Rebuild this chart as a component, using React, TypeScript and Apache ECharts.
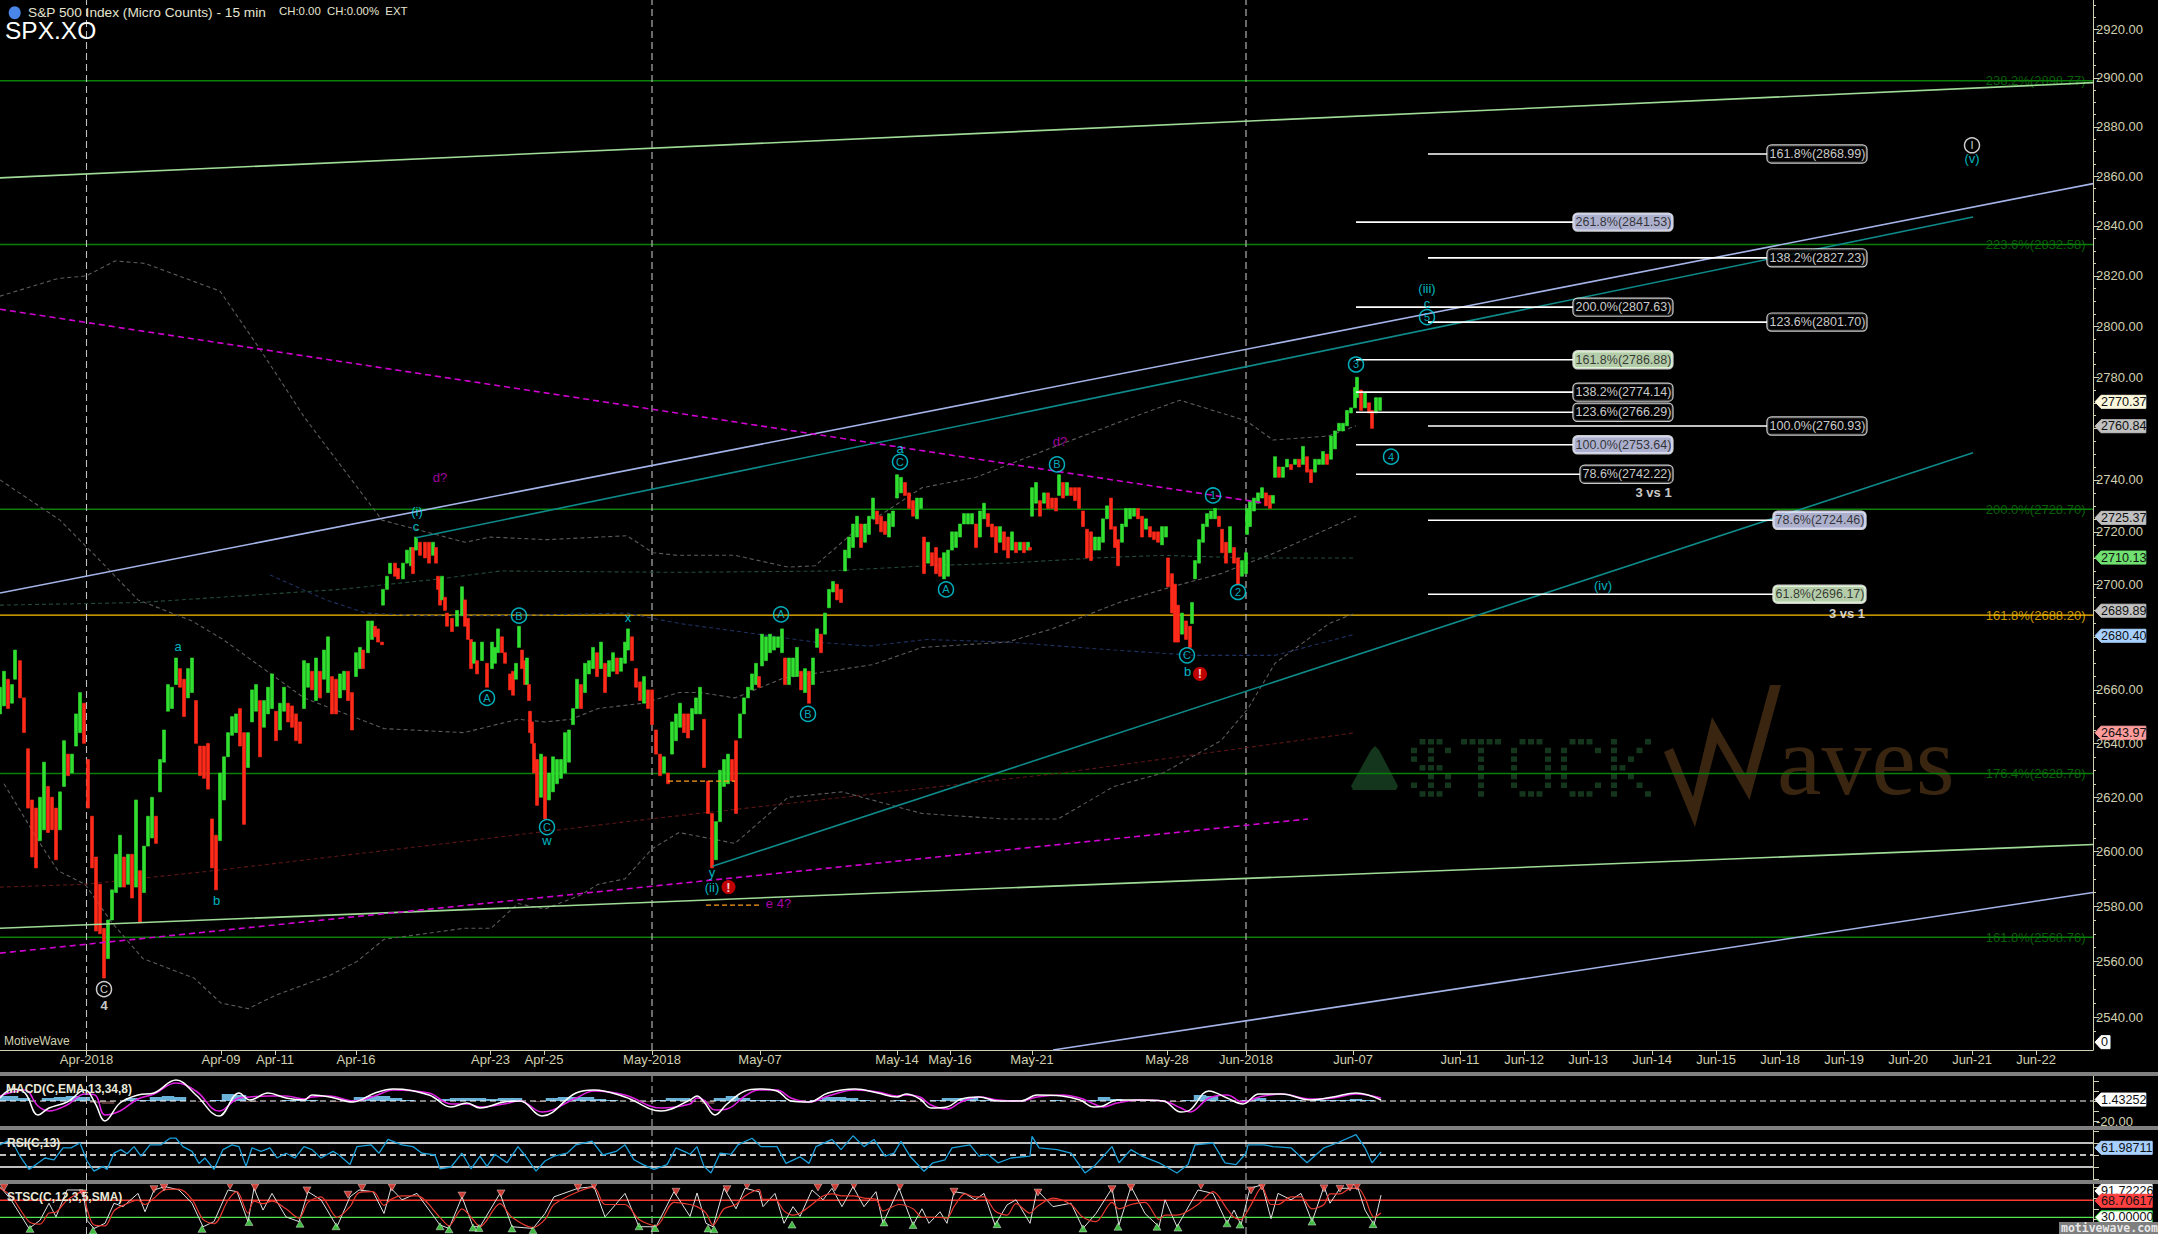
import React, { useEffect, useRef } from "react";
import * as echarts from "echarts";

const SLOT_MAX = 2093;
const PRICE_MIN = 2528.2;
const PRICE_MAX = 2932;
const INK = "#d0d0b0";
const FONT = "'Liberation Sans', Arial, sans-serif";

const barSlots = [
0,4,8,12,15,20,24,28,32,36,
40,44,48,52,56,60,64,68,72,76,
80,84,88,92,96,100,104,108,112,116,
120,124,128,132,136,140,144,148,152,156,
160,164,168,172,176,180,184,188,192,196,
200,204,208,212,216,220,224,228,232,236,
240,244,248,252,256,260,264,268,272,276,
280,284,288,292,296,300,304,308,312,316,
320,324,328,332,336,340,344,348,352,356,
360,363,368,372,375,378,382,383,387,390,
395,398,403,407,411,413,416,420,425,429,
433,436,438,440,442,445,447,452,457,462,
465,468,471,474,477,482,487,492,495,498,
502,505,510,513,516,519,522,525,527,529,
530,532,534,537,541,545,549,553,557,561,
565,569,573,577,581,585,589,593,597,601,
605,609,613,617,621,625,628,632,636,640,
644,648,652,656,660,664,668,672,676,680,
684,688,692,696,700,704,708,712,716,720,
724,728,732,736,740,744,748,752,756,759,
762,766,770,774,778,782,785,789,793,797,
801,805,809,813,817,821,825,829,833,837,
841,845,849,853,857,861,865,869,873,877,
881,885,889,893,897,901,905,909,913,917,
921,924,928,932,936,940,944,948,952,956,
960,964,968,972,976,980,984,988,992,996,
1000,1004,1008,1012,1016,1020,1024,1028,1030,1032,
1036,1040,1044,1048,1052,1056,1059,1063,1067,1071,
1075,1079,1083,1087,1091,1095,1099,1103,1107,1111,
1115,1118,1122,1126,1130,1134,1138,1142,1146,1150,
1154,1158,1162,1166,1168,1172,1175,1178,1182,1186,
1190,1192,1195,1199,1203,1207,1211,1215,1219,1222,
1226,1230,1234,1238,1242,1246,1247,1250,1254,1258,
1262,1266,1270,1273,1275,1279,1283,1287,1291,1295,
1299,1303,1307,1311,1315,1319,1323,1327,1331,1335,
1339,1343,1347,1351,1355,1357,1361,1365,1369,1372,
1376,1380];
const barHighs = [
2661,2667,2664,2662,2675,2671,2657,2638,2619,2616,
2620,2633,2624,2620,2616,2622,2641,2636,2636,2651,
2659,2655,2634,2613,2598,2588,2572,2575,2586,2599,
2606,2598,2599,2599,2619,2593,2602,2613,2620,2613,
2634,2645,2662,2661,2672,2668,2664,2668,2672,2656,
2639,2639,2640,2612,2606,2629,2635,2644,2650,2651,
2653,2644,2644,2660,2662,2656,2656,2661,2666,2652,
2655,2661,2655,2654,2651,2648,2671,2670,2667,2672,
2667,2675,2680,2665,2664,2666,2667,2667,2659,2674,
2676,2675,2686,2686,2684,2683,2678,2698,2703,2708,
2708,2706,2708,2713,2714,2714,2718,2716,2716,2716,
2716,2714,2703,2702,2703,2695,2689,2687,2690,2699,
2694,2687,2679,2678,2671,2678,2670,2678,2676,2683,
2680,2674,2666,2667,2670,2684,2675,2671,2672,2662,
2652,2648,2640,2634,2636,2635,2629,2635,2634,2634,
2644,2645,2653,2664,2662,2670,2671,2676,2674,2678,
2670,2671,2674,2672,2672,2678,2683,2680,2668,2663,
2665,2660,2660,2645,2636,2635,2629,2648,2651,2655,
2651,2651,2653,2657,2661,2649,2626,2614,2611,2630,
2634,2636,2634,2641,2651,2657,2661,2666,2670,2665,
2681,2680,2681,2680,2680,2683,2672,2672,2672,2676,
2667,2668,2667,2672,2683,2681,2689,2698,2701,2700,
2698,2713,2718,2723,2726,2723,2723,2726,2733,2728,
2726,2724,2727,2728,2742,2741,2739,2735,2732,2733,
2733,2718,2716,2712,2714,2710,2712,2713,2720,2720,
2723,2727,2727,2727,2723,2728,2731,2727,2723,2722,
2722,2720,2718,2720,2716,2716,2716,2716,2714,2737,
2739,2732,2735,2735,2733,2733,2742,2739,2739,2737,
2737,2737,2728,2721,2720,2718,2718,2725,2730,2733,
2722,2717,2723,2729,2729,2729,2729,2726,2725,2722,
2720,2720,2722,2722,2710,2704,2700,2692,2689,2686,
2684,2693,2709,2717,2723,2727,2728,2729,2726,2721,
2716,2722,2714,2710,2709,2712,2729,2732,2733,2735,
2737,2735,2734,2734,2749,2745,2745,2748,2746,2748,
2748,2753,2749,2744,2748,2748,2751,2750,2757,2759,
2762,2762,2767,2768,2776,2780,2775,2774,2770,2767,
2772,2772];
const barLows = [
2651,2654,2653,2655,2664,2657,2644,2616,2598,2594,
2604,2608,2607,2608,2597,2608,2624,2628,2629,2639,
2644,2640,2616,2594,2571,2570,2554,2561,2575,2585,
2587,2587,2588,2583,2587,2574,2585,2602,2605,2603,
2622,2633,2652,2653,2662,2661,2650,2657,2659,2640,
2628,2627,2623,2594,2586,2604,2619,2635,2643,2644,
2639,2610,2631,2648,2652,2635,2646,2651,2653,2641,
2645,2652,2648,2646,2641,2640,2653,2661,2660,2656,
2657,2664,2659,2651,2651,2657,2660,2656,2645,2665,
2668,2668,2674,2679,2680,2678,2677,2692,2698,2704,
2703,2702,2702,2708,2707,2704,2713,2711,2710,2708,
2711,2708,2698,2692,2694,2690,2684,2682,2684,2688,
2684,2679,2668,2670,2666,2671,2661,2668,2670,2674,
2674,2670,2660,2658,2664,2676,2668,2662,2662,2656,
2644,2640,2629,2617,2620,2612,2619,2622,2625,2627,
2629,2633,2647,2653,2653,2659,2666,2668,2665,2668,
2659,2665,2667,2666,2667,2670,2675,2671,2661,2656,
2655,2653,2647,2636,2628,2629,2625,2636,2641,2646,
2644,2642,2645,2651,2651,2631,2614,2594,2597,2611,
2624,2625,2626,2614,2642,2651,2657,2660,2662,2661,
2669,2671,2674,2675,2676,2674,2662,2662,2665,2665,
2660,2659,2655,2662,2676,2674,2681,2691,2697,2694,
2693,2705,2710,2714,2718,2714,2716,2719,2725,2723,
2720,2719,2718,2722,2733,2735,2734,2729,2726,2725,
2729,2704,2708,2707,2704,2703,2702,2703,2713,2714,
2718,2723,2723,2723,2714,2718,2725,2722,2718,2712,
2716,2713,2710,2713,2712,2713,2712,2713,2713,2726,
2731,2726,2731,2729,2729,2728,2734,2733,2734,2734,
2732,2729,2722,2710,2709,2713,2713,2716,2725,2721,
2714,2707,2716,2722,2725,2726,2725,2718,2721,2718,
2717,2716,2715,2718,2699,2689,2678,2678,2681,2679,
2676,2685,2702,2708,2716,2722,2725,2725,2722,2712,
2708,2712,2708,2700,2703,2704,2719,2722,2728,2731,
2733,2730,2729,2731,2741,2741,2741,2745,2744,2746,
2745,2746,2743,2739,2743,2746,2746,2746,2748,2752,
2759,2759,2761,2766,2768,2772,2767,2768,2766,2760,
2766,2767];

const bandUpperSlots = [0,58,86,115,145,220,260,305,382,465,490,547,627,653,677,735,788,815,851,922,976,1052,1123,1180,1246,1273,1328,1356];
const bandUpperPrices = [2812,2819,2820,2826,2825,2814,2791,2764,2724.5,2716,2718,2717,2718.5,2712,2711,2711,2706.5,2707,2719,2737,2741,2752.5,2763,2771,2763,2755.5,2757,2761];
const bandMidSlots = [0,60,100,138,192,223,304,384,464,518,545,571,598,643,679,700,735,784,873,922,1007,1052,1119,1172,1221,1275,1356];
const bandMidPrices = [2740,2724.5,2709,2694,2686,2679,2657,2645.5,2644,2649,2648,2649,2653,2655,2659,2659,2657,2664.5,2669.5,2676,2678,2683,2693,2699,2704,2712,2726];
const bandLowerSlots = [4,40,58,85,112,143,194,221,248,277,330,357,384,464,491,518,545,580,598,625,652,679,735,788,842,922,1003,1058,1114,1163,1221,1248,1275,1329,1355];
const bandLowerPrices = [2625,2603,2593,2588,2574,2561,2554,2545,2543,2548,2555,2560,2568,2572,2572,2581,2579,2584,2588,2590,2601,2607,2603,2620,2622,2614,2612,2612,2624,2629,2641,2653,2670,2685,2689];
const greenAvgSlots = [0,140,340,440,500,680,829,927,1007,1096,1163,1248,1355];
const greenAvgPrices = [2692,2693,2698,2702,2705,2704.5,2705,2707,2708,2710,2711,2710,2710];
const navyAvgSlots = [270,326,366,420,500,627,653,680,739,815,869,927,1007,1114,1195,1275,1355];
const navyAvgPrices = [2703.5,2694,2689,2688,2688,2689,2687,2685,2682,2678,2676.5,2679,2678,2675,2673,2673,2681];
const redAvgSlots = [0,85,214,446,650,1061,1356];
const redAvgPrices = [2587,2588,2593,2603,2612,2629,2644];

const retraceLevels = [2898.77,2832.58,2728.7,2688.2,2628.78,2568.76];
const retraceTexts = ["238.2%(2898.77)","223.6%(2832.58)","200.0%(2728.70)","161.8%(2688.20)","176.4%(2628.78)","161.8%(2568.76)"];
const retraceColors = ["#0a7a0a","#0a7a0a","#0a7a0a","#ffc000","#0a7a0a","#0a7a0a"];

const fibPrices = [2841.53,2807.63,2786.88,2774.14,2766.29,2753.64,2742.22,2868.99,2827.23,2801.7,2760.93,2724.46,2696.17];
const fibTexts = ["261.8%(2841.53)","200.0%(2807.63)","161.8%(2786.88)","138.2%(2774.14)","123.6%(2766.29)","100.0%(2753.64)","78.6%(2742.22)","161.8%(2868.99)","138.2%(2827.23)","123.6%(2801.70)","100.0%(2760.93)","78.6%(2724.46)","61.8%(2696.17)"];
const fibStarts = [1356,1356,1356,1356,1356,1356,1356,1428,1428,1428,1428,1428,1428];
const fibEnds = [1573,1573,1573,1573,1573,1573,1580,1767,1767,1767,1767,1773,1773];
const fibFills = ["#d8dcff","#000000","#e2ffd4","#000000","#000000","#d8dcff","#000000","#000000","#000000","#000000","#000000","#d8dcff","#e2ffd4"];

const circledSlots = [487,519,547,781,808,900,946,1057,1213,1238,1187,1356,1391,1427,104,1972];
const circledPrices = [2657,2688,2609,2688.5,2651,2747,2698,2746,2734,2697,2673,2785,2749,2803.7,2550,2872.5];
const circledTexts = ["A","B","C","A","B","C","A","B","1","2","C","3","4","5","C","I"];
const circledColors = ["#00d8e8","#00d8e8","#00d8e8","#00d8e8","#00d8e8","#00d8e8","#00d8e8","#00d8e8","#00d8e8","#00d8e8","#00d8e8","#00d8e8","#00d8e8","#00d8e8","#ffffff","#ffffff"];

const noteSlots = [547,628,178,216.5,416,417,900,1187.5,712,712,1427,1427,1972,1603,104,440,1060,778.5,1653.6,1847];
const notePrices = [2604,2687.5,2676.5,2582,2722,2728,2752,2667,2592.5,2587,2815,2809,2867,2699.6,2544,2741,2755,2581,2735,2689];
const noteTexts = ["w","x","a","b","c","(i)","a","b","y","(ii)","(iii)","c","(v)","(iv)","4","d?","d?","e 4?","3 vs 1","3 vs 1"];
const noteColors = ["#00e0f0","#00e0f0","#00e0f0","#00e0f0","#00e0f0","#00e0f0","#00e0f0","#00e0f0","#00e0f0","#00e0f0","#00e0f0","#00e0f0","#00e0f0","#00e0f0","#ffffff","#c800c8","#c800c8","#d800d8","#ffffff","#ffffff"];

const alertSlots = [1200,728.5];
const alertPrices = [2666,2587];

const tagPrices = [2770.37,2760.84,2725.37,2710.13,2689.89,2680.4,2643.97,2531];
const tagTexts = ["2770.37","2760.84","2725.37","2710.13","2689.89","2680.40","2643.97","0"];
const tagFills = ["#fdf8dc","#c0c0c0","#c0c0c0","#70e070","#c0c0c0","#a8d0ff","#ff9d9d","#ffffff"];

const majorPriceTicks = [2540,2560,2580,2600,2620,2640,2660,2680,2700,2720,2740,2760,2780,2800,2820,2840,2860,2880,2900,2920];
const labelPriceTicks = [2540,2560,2580,2600,2620,2640,2660,2700,2720,2740,2780,2800,2820,2840,2860,2880,2900,2920];
const minorPriceTicks = [2535,2545,2550,2555,2565,2570,2575,2585,2590,2595,2605,2610,2615,2625,2630,2635,2645,2650,2655,2665,2670,2675,2685,2690,2695,2705,2710,2715,2725,2730,2735,2745,2750,2755,2765,2770,2775,2785,2790,2795,2805,2810,2815,2825,2830,2835,2845,2850,2855,2865,2870,2875,2885,2890,2895,2905,2910,2915,2925,2930];

const dateSlots = [86.5,221,275,356,490.5,544,652,760,897,950,1032,1167,1246,1353,1460,1524,1588,1652,1716,1780,1844,1908,1972,2036];
const dateLabels = ["Apr-2018","Apr-09","Apr-11","Apr-16","Apr-23","Apr-25","May-2018","May-07","May-14","May-16","May-21","May-28","Jun-2018","Jun-07","Jun-11","Jun-12","Jun-13","Jun-14","Jun-15","Jun-18","Jun-19","Jun-20","Jun-21","Jun-22"];
const sessionMarkers = [86.5,652,1246];

const macdSlots = [0,13,25,38,49,67,85,95,105,120,138,154,176,196,219,239,250,268,286,304,312,330,353,375,393,429,451,467,480,504,520,542,576,594,625,661,690,697,704,715,727,745,759,777,791,809,828,855,878,897,906,920,931,947,961,979,998,1021,1037,1062,1080,1094,1103,1117,1140,1163,1181,1190,1209,1227,1243,1259,1282,1310,1333,1356,1381];
const macdLine = [3,12,8,-14,-7,-1,11,-2,-20,-2,6,8,21,6,-15,8,1,8,3,1,6,4,-1,8,12,6,-6,-2,-7,-1,0,-15,8,11,4,-10,1,5,-1,-14,-3,10,12,10,0,-1,8,12,8,4,7,2,-7,-6,2,4,0,0,6,5,1,-6,-5,1,1,0,-11,-9,10,3,-3,7,7,1,4,8,1];
const macdSignal = [5,9,11,-5,-10,-4,7,6,-14,-10,2,7,18,10,-10,3,4,5,5,2,4,5,0,5,11,8,-3,-3,-6,-3,0,-11,3,10,6,-7,-3,3,1,-9,-8,5,11,11,3,-1,5,11,9,5,6,4,-4,-8,-1,4,1,0,4,6,3,-3,-6,-2,1,0,-7,-11,3,6,-1,4,7,2,3,7,3];
const HIST_STEP = 12;
const macdHist = [5,5,3,0,3,4,5,4,-2,-3,0,3,1,4,5,4,0,-1,1,7,6,-1,0,0,1,1,1,0,-1,1,4,5,5,3,1,0,0,2,3,3,3,2,3,3,0,-1,3,4,4,4,2,1,0,-1,-1,1,3,3,-1,-3,3,5,3,1,1,1,0,-1,1,4,4,3,1,0,0,1,-1,0,1,3,3,3,1,1,1,1,0,0,1,0,-1,1,4,2,0,1,1,0,-1,1,6,5,1,-1,1,3,1,1,1,0,1,1,1,2,1,0];

const rsiSlots = [0,7,13,20,29,36,45,54,63,71,80,87,94,103,107,114,121,127,134,141,150,161,170,176,183,192,199,205,214,223,232,239,246,252,261,270,277,286,295,304,312,321,333,339,350,357,371,379,388,402,413,422,435,440,451,462,471,480,487,495,507,518,527,536,545,554,567,576,592,603,616,625,634,643,654,667,676,688,690,697,704,711,720,731,738,752,761,777,786,800,809,816,832,841,853,864,874,885,894,901,910,924,933,945,952,970,979,988,998,1011,1030,1032,1039,1057,1071,1085,1094,1112,1119,1131,1142,1159,1177,1188,1195,1213,1225,1236,1246,1248,1264,1273,1291,1307,1324,1337,1356,1365,1372,1381];
const rsiValues = [67,73,70,48,26,34,45,42,62,62,70,40,23,31,26,53,59,52,64,48,67,67,78,78,64,56,36,45,26,59,67,64,31,62,56,62,45,53,45,64,59,45,56,50,34,64,67,53,76,67,64,53,50,27,30,53,27,48,31,51,37,64,45,23,40,48,53,67,73,50,56,67,42,34,26,34,62,53,51,64,31,20,53,51,67,78,64,64,36,47,36,64,76,59,82,64,76,48,53,73,48,23,37,42,62,67,48,51,37,45,48,81,62,59,53,20,31,64,37,59,48,37,20,34,67,70,37,34,53,67,67,64,62,37,62,70,84,62,37,55];

const stochSlots = [0,11,29,40,49,56,67,83,87,94,105,114,123,138,145,154,165,179,192,203,214,228,237,248,254,263,272,286,299,308,321,337,350,359,373,384,391,402,417,440,449,462,473,480,500,512,533,545,554,578,594,605,625,639,656,674,690,697,706,713,724,736,745,759,763,775,784,793,800,812,823,832,842,853,864,876,883,899,913,922,929,940,947,954,965,975,984,995,1007,1016,1030,1037,1053,1071,1083,1096,1112,1119,1131,1145,1159,1165,1177,1198,1213,1227,1234,1241,1250,1262,1271,1278,1291,1301,1312,1324,1330,1340,1351,1358,1365,1374,1381];
const stochK = [102,71,4,23,63,31,94,94,23,4,16,63,55,86,43,94,102,94,63,8,20,94,90,20,98,47,86,31,20,90,71,8,78,94,90,39,98,71,86,12,4,78,8,8,86,8,4,39,78,98,102,31,86,8,8,90,32,87,16,8,98,50,98,90,55,86,16,55,32,94,71,98,55,102,55,90,16,98,12,50,16,43,16,90,86,71,86,12,59,71,16,94,55,63,4,39,98,12,102,39,8,71,8,94,86,16,47,12,98,106,27,86,71,86,20,102,63,98,98,98,47,12,82];
const stochD = [98,80,20,14,40,42,70,90,50,12,10,45,58,70,60,75,95,96,72,25,15,70,90,40,68,62,68,50,28,65,78,30,55,88,90,58,72,80,80,30,10,50,25,8,62,30,6,25,60,90,100,60,60,25,10,65,60,55,40,12,50,60,80,95,72,72,45,35,40,60,80,85,80,80,75,72,45,60,50,30,30,30,28,55,85,78,78,45,35,62,40,55,75,60,30,20,65,50,60,65,25,35,35,60,90,50,30,25,55,100,60,60,78,78,50,60,85,85,98,98,75,30,40];
const peakSlots = [4,83,154,164,230,255,307,348,362,392,462,501,578,594,676,727,747,818,835,854,900,954,1038,1112,1131,1201,1251,1262,1324,1340,1350,1357];
const peakValues = [100,86,96,100,104,100,93,83,99,100,81,86,100,104,90,96,104,100,100,104,102,90,88,96,100,104,93,102,98,97,100,102];
const troughSlots = [30,93,202,249,300,336,440,449,473,479,512,533,639,655,708,714,792,884,913,997,1083,1118,1157,1178,1227,1240,1312,1373];
const troughValues = [3,-1,3,19,15,9,9,2,6,5,4,0,9,5,4,2,13,18,12,14,4,8,8,6,16,13,20,14];

const dotGlyphs = [
  [".###.", "#.#.#", "#.#..", ".###.", "..#.#", "#.#.#", ".###."],
  ["#####", "..#..", "..#..", "..#..", "..#..", "..#..", "..#.."],
  [".###.", "#...#", "#...#", "#...#", "#...#", "#...#", ".###."],
  [".###.", "#...#", "#....", "#....", "#....", "#...#", ".###."],
  ["#...#", "#..#.", "#.#..", "##...", "#.#..", "#..#.", "#...#"],
];

type Pt = [number, number];
const zip = (xs: number[], ys: number[]): Pt[] => xs.map((x, i) => [x, ys[i]]);

const line = (name: string, data: Pt[], color: string, width: number, dash: any, axis = 0, z = 2, smooth: any = false) => ({
  type: "line", name, data, symbol: "none", showSymbol: false, silent: true, animation: false, smooth,
  xAxisIndex: axis, yAxisIndex: axis === 0 ? 0 : axis + 1, z,
  lineStyle: { color, width, type: dash, cap: "butt" },
});

const labelScatter = (name: string, data: any[], z = 8) => ({
  type: "scatter", name, data, silent: true, animation: false, xAxisIndex: 0, yAxisIndex: 0, z,
  symbolSize: 1, itemStyle: { color: "rgba(0,0,0,0)" },
});

const tagSeries = (name: string, axis: number, values: number[], texts: string[], fills: string[], borders?: string[]) => ({
  type: "custom", name, silent: true, animation: false, clip: false, z: 20,
  xAxisIndex: axis, yAxisIndex: axis === 0 ? 0 : axis + 1,
  encode: { x: 0, y: 1 },
  data: values.map((v) => [SLOT_MAX, v]),
  renderItem: (params: any, api: any) => {
    const [x, y] = api.coord([api.value(0), api.value(1)]);
    const i = params.dataIndex;
    const w = Math.max(17, texts[i].length * 6.4 + 8);
    return {
      type: "group",
      children: [
        { type: "polygon", shape: { points: [[x + 2, y], [x + 8, y - 6.5], [x + w, y - 6.5], [x + w, y + 6.5], [x + 8, y + 6.5]] },
          style: { fill: fills[i], stroke: borders ? borders[i] : fills[i], lineWidth: 1 } },
        { type: "text", style: { text: texts[i], x: x + 8, y, fill: "#101010", font: `12.6px ${FONT}`, textVerticalAlign: "middle", textAlign: "left" } },
      ],
    };
  },
});

const buildOption = () => {
  const mids = barHighs.map((h, i) => (h + barLows[i]) / 2);
  const candles = barSlots.map((s, i) => {
    const up = i === 0 ? true : mids[i] >= mids[i - 1];
    return [s, up ? barLows[i] : barHighs[i], up ? barHighs[i] : barLows[i], barLows[i], barHighs[i]];
  });

  const dateMap = new Map(dateSlots.map((s, i) => [s, dateLabels[i]]));

  const pane = (top: number) => ({ left: 0, width: SLOT_MAX, top, height: 50, containLabel: false });
  const paneX = (gridIndex: number) => ({
    type: "value", gridIndex, min: 0, max: SLOT_MAX, axisLine: { show: false }, axisTick: { show: false }, axisLabel: { show: false }, splitLine: { show: false },
  });
  const paneY = (gridIndex: number, min: number, max: number, ticks: number[], labels: number[]) => ({
    type: "value", gridIndex, min, max, position: "right",
    axisLine: { show: true, onZero: false, lineStyle: { color: INK, width: 1 } },
    axisTick: { show: true, length: 6, customValues: ticks, lineStyle: { color: INK } },
    axisLabel: { show: labels.length > 0, customValues: labels, color: INK, fontSize: 13, fontFamily: FONT, margin: 3, formatter: (v: number) => v.toFixed(2) },
    splitLine: { show: false },
  });

  const series: any[] = [];

  retraceLevels.forEach((p, i) => {
    series.push(line(`retrace-${i}`, [[0, p], [SLOT_MAX, p]], retraceColors[i] === "#ffc000" ? "#ffc000" : "#0a800a", 1.4, "solid"));
  });
  series.push(labelScatter("retrace-labels", retraceLevels.map((p, i) => ({
    value: [2086, p],
    label: { show: true, position: "left", distance: 0, formatter: retraceTexts[i], color: retraceColors[i], fontSize: 13, fontFamily: FONT },
  })), 3));

  sessionMarkers.forEach((s, i) => {
    series.push(line(`session-${i}`, [[s, PRICE_MIN], [s, PRICE_MAX]], "#c0c0c0", 1.1, [7, 4]));
    series.push(line(`session-macd-${i}`, [[s, -25], [s, 25]], "#c0c0c0", 1, [7, 4], 1));
    series.push(line(`session-rsi-${i}`, [[s, 8.3], [s, 91.7]], "#c0c0c0", 1, [7, 4], 2));
    series.push(line(`session-stoch-${i}`, [[s, -9], [s, 108]], "#c0c0c0", 1, [7, 4], 3));
  });

  const dots: any = [4, 3];
  series.push(line("band-upper", zip(bandUpperSlots, bandUpperPrices), "#5c5c5c", 1.1, dots));
  series.push(line("band-mid", zip(bandMidSlots, bandMidPrices), "#5c5c5c", 1.1, dots));
  series.push(line("band-lower", zip(bandLowerSlots, bandLowerPrices), "#5c5c5c", 1.1, dots));
  series.push(line("avg-green", zip(greenAvgSlots, greenAvgPrices), "#234a36", 1.1, dots));
  series.push(line("avg-navy", zip(navyAvgSlots, navyAvgPrices), "#1e3060", 1.1, dots));
  series.push(line("avg-red", zip(redAvgSlots, redAvgPrices), "#5a1616", 1.1, dots));

  series.push({
    type: "candlestick", name: "SPX.XO", data: candles, encode: { x: 0, y: [1, 2, 3, 4] },
    xAxisIndex: 0, yAxisIndex: 0, barWidth: 3.4, silent: true, animation: false, z: 3,
    itemStyle: { color: "#30e030", color0: "#ff2a1a", borderColor: "#30e030", borderColor0: "#ff2a1a", borderWidth: 0.6 },
  });

  series.push(line("channel-green-top", [[0, 2859.3], [SLOT_MAX, 2898]], "#a0dc98", 1.6, "solid", 0, 4));
  series.push(line("channel-green-bottom", [[0, 2572], [SLOT_MAX, 2602.6]], "#a0dc98", 1.6, "solid", 0, 4));
  series.push(line("channel-blue-top", [[0, 2696.6], [SLOT_MAX, 2857]], "#a4b4e8", 1.6, "solid", 0, 4));
  series.push(line("channel-blue-bottom", [[1053, 2528.2], [SLOT_MAX, 2585]], "#a4b4e8", 1.6, "solid", 0, 4));
  series.push(line("channel-teal-top", [[416, 2717.7], [1973, 2843.6]], "#0e8a8a", 1.6, "solid", 0, 4));
  series.push(line("channel-teal-bottom", [[712.5, 2594.6], [1973, 2750.5]], "#0e8a8a", 1.6, "solid", 0, 4));
  series.push(line("magenta-top", [[0, 2806.8], [1265, 2731]], "#d000d0", 1.6, [6, 4], 0, 4));
  series.push(line("magenta-bottom", [[0, 2563], [1308, 2612]], "#d000d0", 1.6, [6, 4], 0, 4));
  series.push(line("orange-top", [[668, 2626], [735, 2626]], "#ff9a1a", 1.3, [5, 3], 0, 4));
  series.push(line("orange-bottom", [[706, 2580.4], [759, 2580.4]], "#ff9a1a", 1.3, [5, 3], 0, 4));

  fibPrices.forEach((p, i) => {
    series.push(line(`fib-${i}`, [[fibStarts[i], p], [fibEnds[i], p]], "#ffffff", 1.6, "solid", 0, 5));
  });
  series.push(labelScatter("fib-labels", fibPrices.map((p, i) => {
    const filled = fibFills[i] !== "#000000";
    return {
      value: [fibEnds[i], p],
      label: {
        show: true, position: "right", distance: 0, formatter: fibTexts[i], fontSize: 12.5, fontFamily: FONT,
        color: filled ? "#101010" : "#ffffff", backgroundColor: fibFills[i], borderColor: "#ffffff", borderWidth: 1.2,
        borderRadius: 4, padding: [2, 1, 2, 2],
      },
    };
  }), 9));

  series.push({
    type: "scatter", name: "wave-circles", silent: true, animation: false, z: 8, xAxisIndex: 0, yAxisIndex: 0, symbol: "circle", symbolSize: 15,
    data: circledSlots.map((s, i) => ({
      value: [s, circledPrices[i]],
      itemStyle: { color: "rgba(0,0,0,0)", borderColor: circledColors[i], borderWidth: 1.5 },
      label: { show: true, position: "inside", formatter: circledTexts[i], color: circledColors[i], fontSize: 11, fontFamily: FONT },
    })),
  });
  series.push(labelScatter("wave-notes", noteSlots.map((s, i) => {
    const bold = noteTexts[i] === "3 vs 1" || noteTexts[i] === "4";
    return {
      value: [s, notePrices[i]],
      label: { show: true, position: "inside", formatter: noteTexts[i], color: noteColors[i], fontSize: 13, fontWeight: bold ? "bold" : "normal", fontFamily: FONT },
    };
  }), 9));
  series.push({
    type: "scatter", name: "alerts", silent: true, animation: false, z: 9, xAxisIndex: 0, yAxisIndex: 0, symbol: "circle", symbolSize: 14,
    data: zip(alertSlots, alertPrices), itemStyle: { color: "#f00000" },
    label: { show: true, position: "inside", formatter: "!", color: "#ffffff", fontSize: 13, fontWeight: "bold", fontFamily: FONT },
  });
  series.push(tagSeries("price-tags", 0, tagPrices, tagTexts, tagFills));

  series.push({
    type: "bar", name: "macd-hist", xAxisIndex: 1, yAxisIndex: 2, barWidth: 12.5, silent: true, animation: false, z: 2,
    data: macdHist.map((v, i) => ({ value: [i * HIST_STEP, v], itemStyle: { color: v >= 0 ? "#6ab2d8" : "#5a3a3a" } })),
  });
  series.push(line("macd-zero", [[0, 0], [SLOT_MAX, 0]], "#ffffff", 1, [6, 4], 1, 3));
  series.push(line("macd-signal", zip(macdSlots, macdSignal), "#e020e0", 1.5, "solid", 1, 4, 0.4));
  series.push(line("macd-line", zip(macdSlots, macdLine), "#ffffff", 1.5, "solid", 1, 5, 0.4));
  series.push(tagSeries("macd-tag", 1, [1.43252], ["1.43252"], ["#ffffff"]));

  series.push(line("rsi-70", [[0, 70], [SLOT_MAX, 70]], "#ffffff", 1.3, "solid", 2, 3));
  series.push(line("rsi-50", [[0, 50], [SLOT_MAX, 50]], "#ffffff", 1.3, [6, 4], 2, 3));
  series.push(line("rsi-30", [[0, 30], [SLOT_MAX, 30]], "#ffffff", 1.3, "solid", 2, 3));
  series.push(line("rsi", zip(rsiSlots, rsiValues), "#1a9ed8", 1.3, "solid", 2, 4));
  series.push(tagSeries("rsi-tag", 2, [61.98711], ["61.98711"], ["#a8d0ff"]));

  series.push(line("stoch-70", [[0, 70], [SLOT_MAX, 70]], "#ff3a30", 1.3, "solid", 3, 3));
  series.push(line("stoch-30", [[0, 30], [SLOT_MAX, 30]], "#50e850", 1.3, "solid", 3, 3));
  series.push(line("stoch-k", zip(stochSlots, stochK), "#e0e0e0", 1, "solid", 3, 4));
  series.push(line("stoch-d", zip(stochSlots, stochD), "#e83a30", 1.2, "solid", 3, 5, 0.3));
  series.push({
    type: "scatter", name: "stoch-peaks", xAxisIndex: 3, yAxisIndex: 4, symbol: "triangle", symbolRotate: 180, symbolSize: [8, 7],
    data: zip(peakSlots, peakValues), silent: true, animation: false, z: 6, clip: false,
    itemStyle: { color: "#ff4a40", borderColor: "#ffffff", borderWidth: 0.5 },
  });
  series.push({
    type: "scatter", name: "stoch-troughs", xAxisIndex: 3, yAxisIndex: 4, symbol: "triangle", symbolSize: [8, 7],
    data: zip(troughSlots, troughValues), silent: true, animation: false, z: 6, clip: false,
    itemStyle: { color: "#50e850", borderColor: "#ffffff", borderWidth: 0.5 },
  });
  series.push(tagSeries("stoch-tags", 3, [91.72226, 68.70617, 30], ["91.72226", "68.70617", "30.00000"], ["#ffffff", "#ff4040", "#ffffff"], ["#ffffff", "#ff4040", "#30e030"]));

  const wmGreen = "#14361c";
  const wmBrown = "#3a2610";
  const dotRects: any[] = [];
  dotGlyphs.forEach((glyph, g) => {
    glyph.forEach((row, r) => {
      row.split("").forEach((c, k) => {
        if (c === "#") {
          dotRects.push({ type: "rect", z: 0, shape: { x: 1411 + g * 50 + k * 8.5, y: 739 + r * 8.7, width: 6, height: 5.5 }, style: { fill: wmGreen } });
        }
      });
    });
  });

  const graphics: any[] = [
    ...dotRects,
    { type: "polygon", z: 0, shape: { points: [[1375, 746], [1379, 750], [1398, 786], [1396, 790], [1353, 790], [1351, 786], [1371, 750]] }, style: { fill: wmGreen } },
    { type: "polygon", z: 0, shape: { points: [[1664, 752], [1673, 748], [1693, 797], [1712, 717], [1745.5, 775], [1770, 685], [1781, 685], [1749.5, 800], [1717, 743], [1695, 827]] }, style: { fill: wmBrown } },
    { type: "text", z: 0, style: { text: "aves", x: 1777, y: 760, fill: wmBrown, font: "100px 'Liberation Serif', serif", textVerticalAlign: "middle" } },
    { type: "ellipse", z: 50, shape: { cx: 14.7, cy: 12.7, rx: 6, ry: 6.5 }, style: { fill: "#4a86e8" } },
    { type: "text", z: 50, style: { text: "S&P 500 Index (Micro Counts) - 15 min", x: 28, y: 12, fill: "#e4e4d0", font: `13.7px ${FONT}`, textVerticalAlign: "middle" } },
    { type: "text", z: 50, style: { text: "CH:0.00  CH:0.00%  EXT", x: 279, y: 11, fill: "#e4e4d0", font: `11.4px ${FONT}`, textVerticalAlign: "middle" } },
    { type: "text", z: 50, style: { text: "SPX.XO", x: 5, y: 30, fill: "#ffffff", font: `24.5px ${FONT}`, textVerticalAlign: "middle" } },
    { type: "text", z: 50, style: { text: "MotiveWave", x: 4, y: 1041, fill: INK, font: `12px ${FONT}`, textVerticalAlign: "middle" } },
    { type: "rect", z: 30, shape: { x: 0, y: 1072, width: 2158, height: 4 }, style: { fill: "#808080" } },
    { type: "rect", z: 30, shape: { x: 0, y: 1126, width: 2158, height: 4 }, style: { fill: "#808080" } },
    { type: "rect", z: 30, shape: { x: 0, y: 1180, width: 2158, height: 4 }, style: { fill: "#808080" } },
    { type: "text", z: 50, style: { text: "MACD(C,EMA,13,34,8)", x: 6, y: 1089, fill: "#e8e8d8", font: `bold 12px ${FONT}`, textVerticalAlign: "middle" } },
    { type: "text", z: 50, style: { text: "RSI(C,13)", x: 7, y: 1143, fill: "#e8e8d8", font: `bold 12px ${FONT}`, textVerticalAlign: "middle" } },
    { type: "text", z: 50, style: { text: "STSC(C,12,3,5,SMA)", x: 7, y: 1197, fill: "#e8e8d8", font: `bold 12px ${FONT}`, textVerticalAlign: "middle" } },
    { type: "rect", z: 60, shape: { x: 2059, y: 1222, width: 99, height: 12 }, style: { fill: "#7f7f7f" } },
    { type: "text", z: 61, style: { text: "motivewave.com", x: 2061, y: 1228, fill: "#e8e8e8", font: "bold 11.5px 'DejaVu Sans Mono', monospace", textVerticalAlign: "middle" } },
  ];

  return {
    animation: false,
    backgroundColor: "#000000",
    tooltip: { show: false },
    legend: { show: false },
    grid: [
      { left: 0, top: 0, width: SLOT_MAX, height: 1050, containLabel: false },
      pane(1076), pane(1130), pane(1184),
    ],
    xAxis: [
      {
        type: "value", gridIndex: 0, min: 0, max: SLOT_MAX, position: "bottom",
        axisLine: { show: true, onZero: false, lineStyle: { color: INK, width: 1 } },
        axisTick: { show: true, length: 5, customValues: dateSlots, lineStyle: { color: INK } },
        axisLabel: { show: true, customValues: dateSlots, color: INK, fontSize: 13, fontFamily: FONT, margin: 3, formatter: (v: number) => dateMap.get(v) ?? "" , hideOverlap: false },
        splitLine: { show: false },
      },
      paneX(1), paneX(2), paneX(3),
    ],
    yAxis: [
      {
        type: "log", logBase: 10, gridIndex: 0, min: PRICE_MIN, max: PRICE_MAX, position: "right",
        axisLine: { show: true, onZero: false, lineStyle: { color: INK, width: 1 } },
        axisTick: { show: true, length: 6, customValues: majorPriceTicks, lineStyle: { color: INK } },
        axisLabel: { show: true, customValues: labelPriceTicks, color: INK, fontSize: 13, fontFamily: FONT, margin: 3, formatter: (v: number) => Number(v).toFixed(2), hideOverlap: false },
        splitLine: { show: false },
      },
      {
        type: "log", logBase: 10, gridIndex: 0, min: PRICE_MIN, max: PRICE_MAX, position: "right",
        axisLine: { show: false, onZero: false },
        axisTick: { show: true, length: 3, customValues: minorPriceTicks, lineStyle: { color: INK } },
        axisLabel: { show: false },
        splitLine: { show: false },
      },
      paneY(1, -25, 25, [20, 10, 0, -10, -20], [-20]),
      paneY(2, 8.3, 91.7, [90, 70, 50, 30, 10], []),
      paneY(3, -9, 108, [100, 75, 50, 25, 0], []),
    ],
    series,
    graphic: { elements: graphics },
  };
};

export default function App() {
  const ref = useRef<HTMLDivElement>(null);
  useEffect(() => {
    document.body.style.margin = "0";
    document.body.style.background = "#000";
    const chart = echarts.init(ref.current!, undefined, { renderer: "svg" });
    chart.setOption(buildOption() as any);
    return () => chart.dispose();
  }, []);
  return <div ref={ref} style={{ width: 2158, height: 1234, background: "#000", overflow: "hidden" }} />;
}
